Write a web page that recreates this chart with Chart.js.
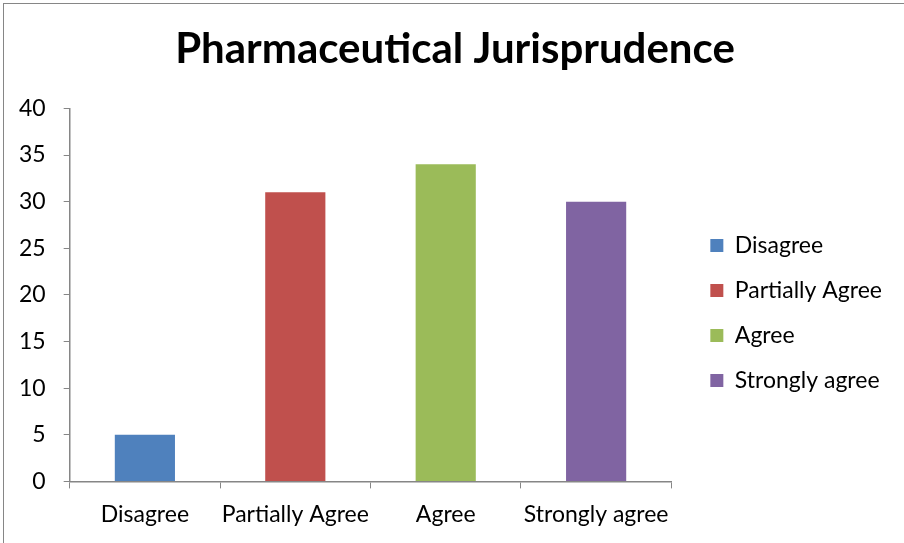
<!DOCTYPE html>
<html>
<head>
<meta charset="utf-8">
<script src="https://cdn.jsdelivr.net/npm/chart.js@4"></script>
<style>
  body { margin: 0; background: #fff; }
  #wrap { position: relative; width: 904px; height: 543px; overflow: hidden; }
  #frame { position: absolute; left: 3px; top: 3px; width: 1000px; height: 1000px; border: 1px solid #868686; box-sizing: border-box; }
  canvas { position: absolute; left: 0; top: 0; }
</style>
</head>
<body>
<div id="wrap">
  <div id="frame"></div>
  <canvas id="chart" width="904" height="543"></canvas>
</div>
<script>
const categories = ['Disagree', 'Partially Agree', 'Agree', 'Strongly agree'];
const responses = [5, 31, 34, 30];
const barColors = ['#4f81bd', '#c0504d', '#9bbb59', '#8064a2'];
const yTicks = [0, 5, 10, 15, 20, 25, 30, 35, 40];

const fontName = 'Lato, "Open Sans", sans-serif';
const axisGrey = '#868686';

// nudge legend away from the plot and centre the title on the whole frame
const boxNudge = {
    id: 'boxNudge',
    afterLayout(chart) {
        chart.legend.left += 17;
        chart.legend.right += 17;
        chart.titleBlock.left += 17;
        chart.titleBlock.right += 17;
    }
};

var ctx = document.getElementById('chart').getContext('2d');
window.juryChart = new Chart(ctx, {
    type: 'bar',
    data: {
        labels: categories,
        datasets: [{
            label: 'Pharmaceutical Jurisprudence',
            data: responses,
            backgroundColor: barColors,
            barPercentage: 0.4,
            categoryPercentage: 1.0
        }]
    },
    plugins: [boxNudge],
    options: {
        responsive: false,
        animation: false,
        layout: {
            autoPadding: false,
            padding: { left: 1, right: 29, top: 0, bottom: 3 }
        },
        scales: {
            x: {
                grid: {
                    offset: true,
                    drawOnChartArea: false,
                    tickLength: 7,
                    color: axisGrey
                },
                border: { color: axisGrey, width: 1.5 },
                ticks: {
                    color: '#000',
                    font: { family: fontName, size: 23 },
                    padding: 12,
                    maxRotation: 0,
                    autoSkip: false
                }
            },
            y: {
                min: 0,
                max: 40,
                afterBuildTicks(axis) {
                    axis.ticks = yTicks.map(v => ({ value: v }));
                },
                grid: {
                    drawOnChartArea: false,
                    tickLength: 6,
                    color: axisGrey
                },
                border: { color: axisGrey, width: 1.5 },
                ticks: {
                    color: '#000',
                    font: { family: fontName, size: 23 },
                    padding: 18
                }
            }
        },
        plugins: {
            title: {
                display: true,
                text: 'Pharmaceutical Jurisprudence',
                color: '#000',
                font: { family: fontName, size: 42, weight: 'bold' },
                padding: { top: 24, bottom: 34 }
            },
            legend: {
                position: 'right',
                title: {
                    display: true,
                    text: ' ',
                    font: { size: 10 },
                    padding: { top: 37, bottom: 37 }
                },
                labels: {
                    boxWidth: 13,
                    boxHeight: 13,
                    padding: 22,
                    color: '#000',
                    font: { family: fontName, size: 23 },
                    generateLabels(chart) {
                        return categories.map((c, i) => ({
                            text: c,
                            fillStyle: barColors[i],
                            strokeStyle: barColors[i],
                            fontColor: '#000',
                            lineWidth: 0,
                            index: i,
                            datasetIndex: 0
                        }));
                    }
                }
            },
            tooltip: { enabled: false }
        }
    }
});
</script>
</body>
</html>
